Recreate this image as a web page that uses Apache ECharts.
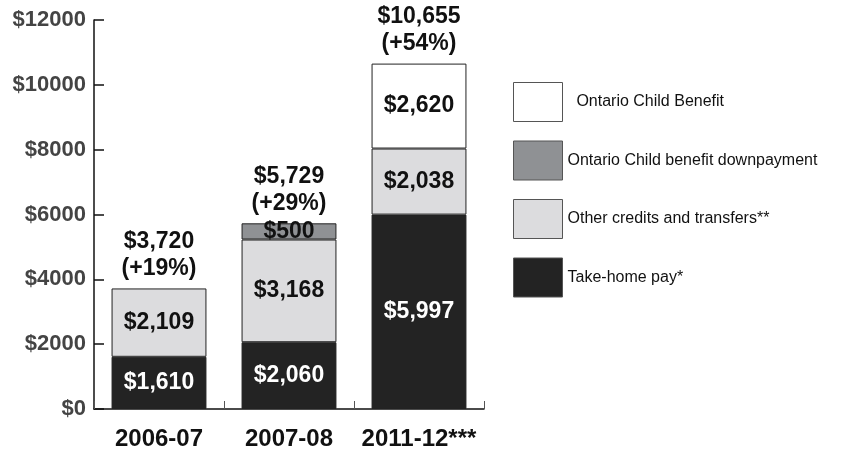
<!DOCTYPE html>
<html>
<head>
<meta charset="utf-8">
<script src="https://cdn.jsdelivr.net/npm/echarts@6/dist/echarts.min.js"></script>
<style>
  html, body { margin: 0; padding: 0; background: #fff; }
  #main { width: 843px; height: 451px; }
</style>
</head>
<body>
<div id="main"></div>
<script>
var categories = ['2006-07', '2007-08', '2011-12***'];
var takeHome = [1610, 2060, 5997];
var otherCredits = [2109, 3168, 2038];
var downpayment = [null, 500, null];
var childBenefit = [null, null, 2620];
var totals = [3720, 5729, 10655];
var totalChange = ['+19%', '+29%', '+54%'];
var yTicks = [0, 2000, 4000, 6000, 8000, 10000, 12000];

function money(v) {
  return '$' + v.toLocaleString('en-US');
}

var barFont = {
  fontFamily: 'Liberation Sans, Arial, sans-serif',
  fontWeight: 'bold',
  fontSize: 23
};

function segment(name, data, color, textColor) {
  return {
    name: name,
    type: 'bar',
    stack: 'total',
    data: data,
    barWidth: '73%',
    itemStyle: { color: color, borderColor: '#222', borderWidth: 1 },
    label: Object.assign({
      show: true,
      position: 'inside',
      color: textColor,
      formatter: function (p) { return p.value ? money(p.value) : ''; }
    }, barFont)
  };
}

var chart = echarts.init(document.getElementById('main'));

var option = {
  backgroundColor: '#fff',
  animation: false,
  grid: { left: 94, right: 359, top: 20, bottom: 41 },
  legend: {
    orient: 'vertical',
    left: 513,
    top: 82,
    padding: 0,
    icon: 'rect',
    itemWidth: 49,
    itemHeight: 39,
    itemGap: 18.5,
    data: ['Ontario Child Benefit', 'Ontario Child benefit downpayment', 'Other credits and transfers**', 'Take-home pay*'],
    formatter: function (name) {
      return name === 'Ontario Child Benefit' ? '  ' + name : name;
    },
    textStyle: {
      fontFamily: 'Liberation Sans, Arial, sans-serif',
      fontSize: 16,
      color: '#111'
    },
    itemStyle: { borderColor: '#555', borderWidth: 1 }
  },
  xAxis: {
    type: 'category',
    data: categories,
    axisLine: { lineStyle: { color: '#111', width: 1.5 } },
    axisTick: { show: true, inside: true, length: 8, lineStyle: { color: '#555' } },
    axisLabel: {
      interval: 0,
      margin: 18,
      color: '#111',
      fontFamily: 'Liberation Sans, Arial, sans-serif',
      fontWeight: 'bold',
      fontSize: 24
    }
  },
  yAxis: {
    type: 'value',
    min: 0,
    max: 12000,
    interval: 2000,
    splitLine: { show: false },
    axisLine: { show: true, lineStyle: { color: '#111', width: 1.5 } },
    axisTick: { show: true, inside: true, length: 10, lineStyle: { color: '#111', width: 1.5 } },
    axisLabel: {
      margin: 8,
      color: '#444',
      fontFamily: 'Liberation Sans, Arial, sans-serif',
      fontWeight: 'bold',
      fontSize: 22,
      formatter: function (v) { return yTicks.indexOf(v) >= 0 ? '$' + v : ''; }
    }
  },
  series: [
    segment('Take-home pay*', takeHome, '#232323', '#fff'),
    segment('Other credits and transfers**', otherCredits, '#dcdcde', '#111'),
    segment('Ontario Child benefit downpayment', downpayment, '#8f9194', '#111'),
    segment('Ontario Child Benefit', childBenefit, '#ffffff', '#111'),
    {
      name: 'total',
      type: 'bar',
      data: totals,
      barWidth: '73%',
      barGap: '-100%',
      silent: true,
      z: 1,
      itemStyle: { color: 'rgba(0,0,0,0)' },
      label: Object.assign({
        show: true,
        position: 'top',
        distance: 6,
        color: '#111',
        lineHeight: 27,
        formatter: function (p) {
          return money(p.value) + '\n(' + totalChange[p.dataIndex] + ')';
        }
      }, barFont)
    }
  ]
};

chart.setOption(option);
</script>
</body>
</html>
